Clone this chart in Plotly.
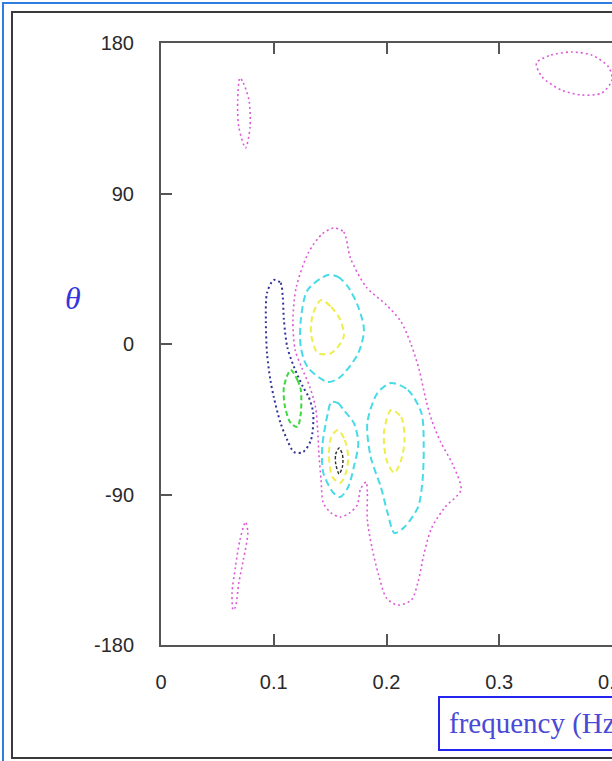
import plotly.graph_objects as go

# ---- contour vertices: frequency (Hz) and angle theta (deg) ----
mag_main_f = [0.153, 0.162, 0.168, 0.182, 0.200, 0.213, 0.222, 0.229, 0.235, 0.240,
              0.248, 0.259, 0.266, 0.252, 0.240, 0.233, 0.228, 0.222, 0.210, 0.200,
              0.193, 0.187, 0.183, 0.183, 0.182, 0.177, 0.174, 0.167, 0.159, 0.151,
              0.144, 0.142, 0.140, 0.139, 0.137, 0.132, 0.125, 0.119, 0.117, 0.120,
              0.131, 0.143]
mag_main_theta = [69.4, 67.0, 51.4, 34.1, 23.3, 13.2, -0.6, -15.5, -33.5, -45.4,
                  -58.6, -72.4, -87.3, -97.5, -110.0, -126.2, -142.3, -153.1, -156.1, -151.9,
                  -138.1, -121.4, -105.2, -88.5, -82.5, -86.7, -96.3, -101.1, -103.5, -101.1,
                  -95.1, -81.3, -65.2, -51.4, -37.7, -25.7, -14.4, -3.6, 14.4, 34.1,
                  55.0, 65.8]

mag_top_left_f = [0.070, 0.073, 0.078, 0.079, 0.075, 0.069, 0.068]
mag_top_left_theta = [159.1, 156.1, 145.9, 129.8, 117.2, 129.8, 145.9]

mag_bottom_left_f = [0.075, 0.077, 0.073, 0.069, 0.066, 0.064, 0.063, 0.066, 0.070]
mag_bottom_left_theta = [-106.4, -113.0, -129.2, -142.9, -157.3, -159.1, -148.9, -133.4, -117.2]

mag_top_right_f = [0.333, 0.346, 0.364, 0.382, 0.397, 0.400, 0.391, 0.373, 0.355, 0.338]
mag_top_right_theta = [168.0, 172.8, 174.6, 172.8, 165.6, 157.9, 150.1, 148.9, 151.9, 159.7]

cyan_upper_f = [0.148, 0.157, 0.166, 0.175, 0.180, 0.175, 0.159, 0.148, 0.130, 0.124, 0.124, 0.130]
cyan_upper_theta = [41.3, 40.1, 34.1, 22.1, 8.4, -5.4, -19.7, -22.7, -13.8, -1.8, 14.4, 32.3]

cyan_lower_left_f = [0.151, 0.157, 0.162, 0.171, 0.175, 0.171, 0.166, 0.159, 0.153, 0.144, 0.143, 0.148]
cyan_lower_left_theta = [-34.7, -35.3, -39.5, -47.2, -59.2, -73.6, -85.5, -91.5, -89.1, -77.1, -61.6, -41.3]

cyan_lower_right_f = [0.204, 0.219, 0.231, 0.233, 0.232, 0.228, 0.216, 0.207, 0.201, 0.195, 0.186, 0.183, 0.192]
cyan_lower_right_theta = [-23.3, -27.5, -41.3, -61.6, -81.3, -97.5, -109.4, -113.0, -101.1, -85.5, -67.6, -47.2, -29.3]

yellow_upper_f = [0.142, 0.151, 0.159, 0.162, 0.151, 0.139, 0.133, 0.135]
yellow_upper_theta = [26.3, 22.1, 14.4, 4.2, -5.4, -5.4, 6.6, 18.5]

yellow_lower_left_f = [0.157, 0.163, 0.166, 0.164, 0.159, 0.152, 0.149, 0.151]
yellow_lower_left_theta = [-51.4, -57.4, -67.6, -77.1, -83.1, -79.5, -66.4, -55.6]

yellow_lower_right_f = [0.204, 0.213, 0.216, 0.213, 0.207, 0.201, 0.198, 0.198]
yellow_lower_right_theta = [-39.5, -43.7, -57.4, -69.4, -77.1, -71.2, -61.6, -51.4]

black_peak_f = [0.158, 0.161, 0.161, 0.158, 0.155, 0.155]
black_peak_theta = [-62.2, -66.4, -73.0, -77.7, -71.8, -65.8]

blue_ridge_f = [0.100, 0.106, 0.108, 0.109, 0.112, 0.118, 0.126, 0.131, 0.135, 0.133,
                0.126, 0.118, 0.112, 0.106, 0.100, 0.097, 0.094, 0.093, 0.094]
blue_ridge_theta = [38.3, 36.5, 28.1, 14.4, -1.8, -13.8, -25.7, -31.7, -41.3, -57.4,
                    -64.6, -64.6, -57.4, -47.2, -31.7, -21.5, -5.4, 14.4, 30.5]

green_ridge_f = [0.115, 0.121, 0.124, 0.124, 0.121, 0.115, 0.110, 0.109]
green_ridge_theta = [-15.5, -21.5, -27.5, -41.3, -49.6, -47.2, -37.7, -25.7]

x_ticks = [0, 0.1, 0.2, 0.3, 0.4]
x_tick_text = ["0", "0.1", "0.2", "0.3", "0.4"]
y_ticks = [-180, -90, 0, 90, 180]
y_tick_text = ["-180", "-90", "0", "90", "180"]

# level styles
MAGENTA = dict(color="#dc5ad8", width=1.6, dash="2px,3px")
CYAN = dict(color="#46dbe6", width=2.0, dash="7px,4px")
YELLOW = dict(color="#eeee4a", width=2.0, dash="6px,4px")
BLACK = dict(color="#303030", width=1.4, dash="3px,2px")
BLUE = dict(color="#33339a", width=2.0, dash="2px,3px")
GREEN = dict(color="#3ed83e", width=2.0, dash="5px,3px")

contours = [
    (mag_main_f, mag_main_theta, MAGENTA),
    (mag_top_left_f, mag_top_left_theta, MAGENTA),
    (mag_bottom_left_f, mag_bottom_left_theta, MAGENTA),
    (mag_top_right_f, mag_top_right_theta, MAGENTA),
    (cyan_upper_f, cyan_upper_theta, CYAN),
    (cyan_lower_left_f, cyan_lower_left_theta, CYAN),
    (cyan_lower_right_f, cyan_lower_right_theta, CYAN),
    (yellow_upper_f, yellow_upper_theta, YELLOW),
    (yellow_lower_left_f, yellow_lower_left_theta, YELLOW),
    (yellow_lower_right_f, yellow_lower_right_theta, YELLOW),
    (black_peak_f, black_peak_theta, BLACK),
    (blue_ridge_f, blue_ridge_theta, BLUE),
    (green_ridge_f, green_ridge_theta, GREEN),
]

fig = go.Figure()
for f, th, style in contours:
    fig.add_trace(go.Scatter(
        x=f + f[:1], y=th + th[:1], mode="lines",
        line=dict(shape="spline", smoothing=0.8, **style),
        showlegend=False, hoverinfo="skip",
    ))

tick_font = dict(family="Liberation Sans, Arial, sans-serif", size=20, color="#2a2a2a")

fig.update_layout(
    width=612, height=761,
    margin=dict(l=161, r=0, t=43, b=116, autoexpand=False),
    paper_bgcolor="white", plot_bgcolor="white",
    xaxis=dict(range=[0, 0.4], tickvals=x_ticks, ticktext=x_tick_text,
               showgrid=False, zeroline=False, showline=True, linecolor="#555555",
               linewidth=2, mirror="ticks", ticks="inside", ticklen=11, tickwidth=1.5,
               tickcolor="#555555", tickfont=tick_font, ticklabelstandoff=18,
               ticklabeloverflow="allow", automargin=False),
    yaxis=dict(range=[-180, 180], tickvals=y_ticks, ticktext=y_tick_text,
               showgrid=False, zeroline=False, showline=True, linecolor="#555555",
               linewidth=2, ticks="inside", ticklen=11, tickwidth=1.5,
               tickcolor="#555555", tickfont=tick_font, ticklabelstandoff=21,
               ticklabeloverflow="allow", automargin=False),
    shapes=[
        # outer blue frame and inner dark frame around the figure
        dict(type="rect", xref="paper", yref="paper", x0=-0.3503, x1=1.2, y0=-0.2, y1=1.0664,
             line=dict(color="#2f7de1", width=2), layer="below"),
        dict(type="rect", xref="paper", yref="paper", x0=-0.3304, x1=1.2, y0=-0.1877, y1=1.0515,
             line=dict(color="#3a3a3a", width=2), layer="below"),
    ],
    annotations=[
        dict(text="<i>θ</i>", xref="paper", yref="paper", x=-0.217, y=0.576,
             showarrow=False, font=dict(family="Liberation Serif, serif", size=32, color="#3434dc")),
        dict(text="frequency (Hz)", xref="paper", yref="paper", x=0.6142, y=-0.0847,
             xanchor="left", yanchor="top", showarrow=False,
             font=dict(family="Liberation Serif, serif", size=29, color="#4a4ad6"),
             bordercolor="#2424f0", borderwidth=2, borderpad=9, bgcolor="white"),
    ],
)

fig.write_html("out.html")
